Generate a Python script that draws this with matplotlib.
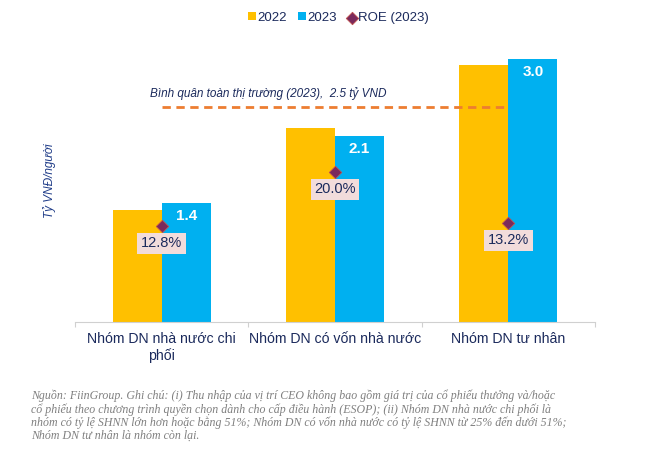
import matplotlib
matplotlib.use('Agg')
import matplotlib.pyplot as plt
import numpy as np

plt.rcParams['font.family'] = ['Liberation Sans', 'DejaVu Sans']

categories = ['Nhóm DN nhà nước chi\nphối', 'Nhóm DN có vốn nhà nước', 'Nhóm DN tư nhân']
income_2022 = [1.28, 2.21, 2.93]
income_2023 = [1.36, 2.12, 3.0]
labels_2023 = ['1.4', '2.1', '3.0']
roe_2023 = [12.8, 20.0, 13.2]
market_avg = 2.45

navy = '#1B2A5C'
yellow = '#FFC000'
blue = '#00B0F0'
purple = '#7A2A5C'
orange = '#ED7D31'

fig = plt.figure(figsize=(6.49, 4.57), dpi=100)
ax = fig.add_axes([0.1156, 0.2954, 0.8012, 0.617])
x = np.arange(len(categories))
w = 0.283

ax.bar(x - w / 2, income_2022, w, color=yellow, label='2022')
ax.bar(x + w / 2, income_2023, w, color=blue, label='2023')
for i in range(len(x)):
    ax.text(x[i] + w / 2, income_2023[i] - 0.07, labels_2023[i], ha='center', va='top',
            color='white', fontsize=11, fontweight='bold')

ax.plot([0, 2], [market_avg, market_avg], color=orange, lw=2, ls=(0, (3, 2)))
ax.text(-0.066, market_avg + 0.09, 'Bình quân toàn thị trường (2023),  2.5 tỷ VND',
        fontsize=8.5, style='italic', color=navy, va='bottom')

ax.set_xlim(-0.5, 2.5)
ax.set_ylim(0, 3.22)
ax.set_yticks([])
for s in ['top', 'right', 'left']:
    ax.spines[s].set_visible(False)
ax.spines['bottom'].set_color('#D0D0D0')
ax.set_xticks([-0.5, 0.5, 1.5, 2.5])
ax.set_xticklabels([])
ax.tick_params(axis='x', which='major', length=3.5, color='#D0D0D0')
ax.set_xticks(x, minor=True)
ax.set_xticklabels(categories, minor=True, fontsize=10.2, color=navy)
ax.tick_params(axis='x', which='minor', length=0, pad=7)
ax.set_ylabel('Tỷ VNĐ/người', fontsize=8.5, style='italic', color='#1F3C88', labelpad=14)

ax2 = ax.twinx()
ax2.set_ylim(0, 37.6)
ax2.axis('off')
ax2.scatter(x, roe_2023, marker='D', s=40, color=purple, edgecolors='#C0504D', linewidths=0.6,
            zorder=5, label='ROE (2023)')
for i in range(len(x)):
    ax2.annotate(f'{roe_2023[i]:.1f}%', (x[i], roe_2023[i]), xytext=(0, -12.5),
                 textcoords='offset points', ha='center', va='center', fontsize=10.5, color=navy,
                 bbox=dict(boxstyle='square,pad=0.25', fc='#F2DCDB', ec='none'), zorder=6)

h1, l1 = ax.get_legend_handles_labels()
h2, l2 = ax2.get_legend_handles_labels()
fig.legend(h1 + h2, l1 + l2, loc='center', bbox_to_anchor=(0.521, 0.961), ncol=3, frameon=False,
           fontsize=9.5, handlelength=0.6, handleheight=0.6, handletextpad=0.15, columnspacing=0.8,
           labelcolor=navy)

note = ('Nguồn: FiinGroup. Ghi chú: (i) Thu nhập của vị trí CEO không bao gồm giá trị của cổ phiếu thưởng và/hoặc\n'
        'cổ phiếu theo chương trình quyền chọn dành cho cấp điều hành (ESOP); (ii) Nhóm DN nhà nước chi phối là\n'
        'nhóm có tỷ lệ SHNN lớn hơn hoặc bằng 51%; Nhóm DN có vốn nhà nước có tỷ lệ SHNN từ 25% đến dưới 51%;\n'
        'Nhóm DN tư nhân là nhóm còn lại.')
fig.text(0.048, 0.148, note, fontsize=8.6, family='Liberation Serif', style='italic', color='#7F7F7F',
         va='top', linespacing=1.1)

fig.savefig('out.png', dpi=100)
